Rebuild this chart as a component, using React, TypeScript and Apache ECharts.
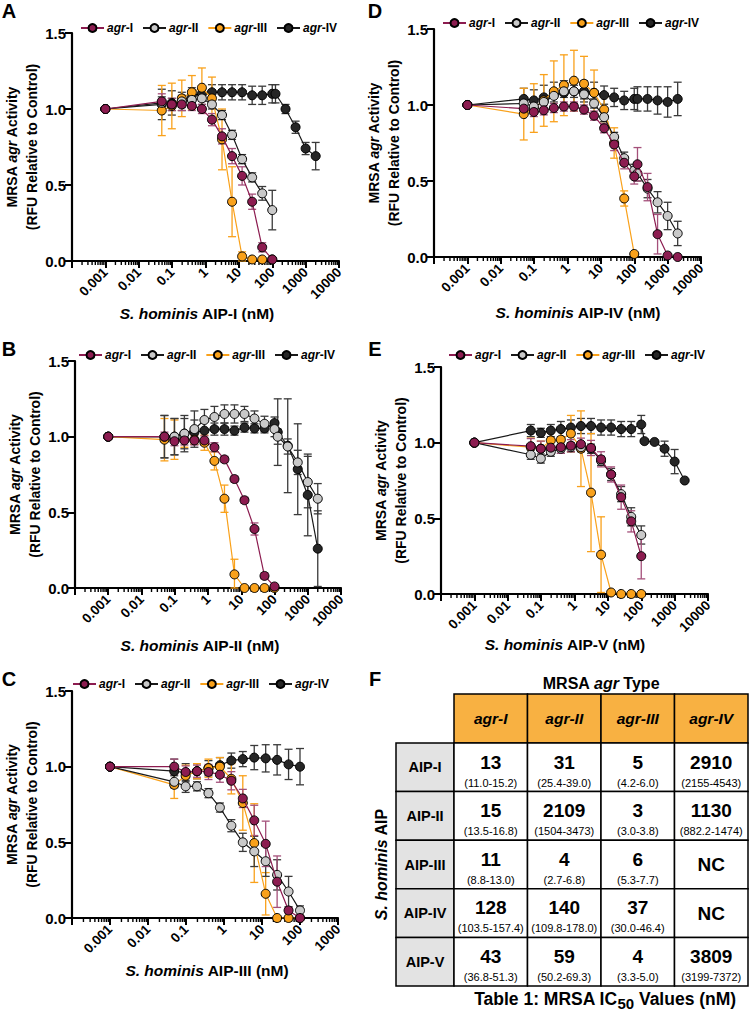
import React, { useEffect, useRef } from 'react';
import * as echarts from 'echarts';

const FONT = '"Liberation Sans", Arial, Helvetica, sans-serif';

// ---------- data ----------
const SERIES_NAMES = ['agr-I', 'agr-II', 'agr-III', 'agr-IV'];
const CONTROL_X = [0.001];
const CONC = [0.049, 0.098, 0.195, 0.39, 0.78, 1.56, 3.125, 6.25, 12.5, 25, 50, 100];
const CONC_HI = [125, 250, 500, 1000, 2000];
const X12 = [...CONTROL_X, ...CONC];
const X17 = [...CONTROL_X, ...CONC, ...CONC_HI];

// Panel A : S. hominis AIP-I
const A_I_Y = [1, 1.05, 1.03, 1.03, 1.02, 1.0, 0.93, 0.82, 0.69, 0.56, 0.39, 0.09, 0.01];
const A_I_E = [0, 0.05, 0.04, 0.04, 0.03, 0.03, 0.04, 0.05, 0.05, 0.06, 0.05, 0.03, 0.01];
const A_II_Y = [1, 1.04, 1.03, 1.05, 1.06, 1.07, 1.03, 0.96, 0.83, 0.67, 0.55, 0.445, 0.335];
const A_II_E = [0, 0.04, 0.04, 0.04, 0.04, 0.04, 0.03, 0.03, 0.03, 0.03, 0.03, 0.045, 0.13];
const A_III_Y = [1, 0.99, 1.02, 1.07, 1.11, 1.14, 1.07, 0.8, 0.39, 0.03, 0.01, 0.01, 0.01];
const A_III_E = [0, 0.165, 0.15, 0.12, 0.11, 0.13, 0.14, 0.2, 0.23, 0.03, 0, 0, 0];
const A_IV_Y = [1, 1.03, 1.04, 1.05, 1.09, 1.1, 1.11, 1.11, 1.11, 1.11, 1.09, 1.09, 1.1, 1.1, 1.0, 0.88, 0.74, 0.69];
const A_IV_E = [0, 0.1, 0.08, 0.06, 0.05, 0.05, 0.05, 0.05, 0.05, 0.05, 0.06, 0.06, 0.06, 0.06, 0.03, 0.04, 0.04, 0.09];

// Panel B : S. hominis AIP-II
const B_I_Y = [1, 1.0, 0.97, 0.975, 0.975, 0.975, 0.93, 0.85, 0.72, 0.58, 0.39, 0.08, 0.01];
const B_I_E = [0, 0.03, 0.03, 0.03, 0.03, 0.03, 0.03, 0.02, 0.02, 0.02, 0.04, 0.02, 0.01];
const B_II_Y = [1, 1.0, 1.0, 1.02, 1.05, 1.11, 1.13, 1.15, 1.15, 1.15, 1.12, 1.085, 1.05, 1.0, 0.935, 0.83, 0.7, 0.59];
const B_II_E = [0, 0.14, 0.12, 0.12, 0.12, 0.07, 0.07, 0.06, 0.06, 0.05, 0.05, 0.05, 0.05, 0.05, 0.05, 0.08, 0.17, 0.1];
const B_III_Y = [1, 0.98, 0.98, 0.98, 0.98, 0.96, 0.84, 0.59, 0.09, 0.0, 0.0, 0.0, 0.0];
const B_III_E = [0, 0.14, 0.13, 0.05, 0.03, 0.05, 0.06, 0.09, 0.1, 0, 0, 0, 0];
const B_IV_Y = [1, 1.0, 1.0, 1.02, 1.03, 1.04, 1.05, 1.05, 1.04, 1.06, 1.055, 1.055, 1.09, 1.03, 0.94, 0.785, 0.615, 0.26];
const B_IV_E = [0, 0.14, 0.12, 0.1, 0.08, 0.06, 0.04, 0.04, 0.03, 0.03, 0.03, 0.03, 0.04, 0.22, 0.31, 0.3, 0.27, 0.25];

// Panel C : S. hominis AIP-III
const C_I_Y = [1, 1.0, 0.965, 0.97, 0.965, 0.947, 0.907, 0.79, 0.645, 0.49, 0.24, 0.05, 0.0];
const C_I_E = [0, 0.05, 0.04, 0.04, 0.05, 0.05, 0.06, 0.06, 0.1, 0.15, 0.17, 0.02, 0];
const C_II_Y = [1, 0.9, 0.87, 0.87, 0.825, 0.73, 0.61, 0.5, 0.44, 0.375, 0.285, 0.175, 0.05];
const C_II_E = [0, 0.04, 0.04, 0.03, 0.03, 0.03, 0.04, 0.06, 0.1, 0.1, 0.1, 0.1, 0.03];
const C_III_Y = [1, 0.88, 0.94, 0.97, 0.99, 1.0, 0.92, 0.76, 0.495, 0.16, 0.0, 0.0, 0.0];
const C_III_E = [0, 0.09, 0.07, 0.05, 0.06, 0.06, 0.1, 0.18, 0.26, 0.14, 0, 0, 0];
const C_IV_Y = [1, 0.97, 0.96, 0.97, 0.99, 1.01, 1.04, 1.05, 1.06, 1.055, 1.045, 1.015, 1.0];
const C_IV_E = [0, 0.08, 0.06, 0.05, 0.05, 0.05, 0.05, 0.05, 0.08, 0.09, 0.1, 0.1, 0.12];

// Panel D : S. hominis AIP-IV
const D_I_Y = [1, 0.976, 0.954, 0.965, 0.98, 0.99, 0.99, 0.97, 0.93, 0.847, 0.74, 0.62, 0.53, 0.61, 0.46, 0.15, 0.01, 0.0];
const D_I_E = [0, 0.03, 0.03, 0.03, 0.03, 0.03, 0.03, 0.03, 0.03, 0.03, 0.04, 0.04, 0.05, 0.11, 0.09, 0.13, 0.01, 0];
const D_II_Y = [1, 1.01, 0.99, 1.02, 1.06, 1.09, 1.09, 1.07, 1.01, 0.92, 0.79, 0.65, 0.57, 0.55, 0.45, 0.36, 0.27, 0.155];
const D_II_E = [0, 0.04, 0.04, 0.04, 0.04, 0.04, 0.04, 0.03, 0.03, 0.03, 0.03, 0.04, 0.04, 0.05, 0.06, 0.07, 0.09, 0.08];
const D_III_Y = [1, 0.94, 0.98, 1.03, 1.09, 1.13, 1.16, 1.14, 1.08, 0.97, 0.75, 0.385, 0.02];
const D_III_E = [0, 0.17, 0.16, 0.17, 0.2, 0.2, 0.2, 0.18, 0.15, 0.08, 0.1, 0.05, 0];
const D_IV_Y = [1, 1.04, 1.03, 1.05, 1.07, 1.08, 1.09, 1.09, 1.08, 1.065, 1.05, 1.03, 1.04, 1.04, 1.04, 1.03, 1.02, 1.04];
const D_IV_E = [0, 0.07, 0.07, 0.08, 0.08, 0.08, 0.08, 0.07, 0.07, 0.06, 0.06, 0.06, 0.07, 0.08, 0.08, 0.09, 0.1, 0.11];

// Panel E : S. hominis AIP-V
const E_I_Y = [1, 0.977, 0.96, 0.967, 0.97, 0.98, 0.99, 0.965, 0.89, 0.79, 0.64, 0.48, 0.25];
const E_I_E = [0, 0.05, 0.05, 0.04, 0.04, 0.04, 0.04, 0.05, 0.05, 0.05, 0.08, 0.07, 0.15];
const E_II_Y = [1, 0.92, 0.895, 0.94, 0.96, 0.97, 0.97, 0.96, 0.88, 0.79, 0.66, 0.51, 0.39];
const E_II_E = [0, 0.03, 0.03, 0.03, 0.03, 0.03, 0.03, 0.03, 0.03, 0.04, 0.05, 0.06, 0.06];
const E_III_Y = [1, 0.97, 0.96, 1.015, 1.02, 1.06, 0.96, 0.67, 0.26, 0.01, 0.0, 0.0, 0.0];
const E_III_E = [0, 0.06, 0.05, 0.05, 0.07, 0.12, 0.25, 0.39, 0.25, 0, 0, 0, 0];
const E_IV_Y = [1, 1.08, 1.065, 1.08, 1.09, 1.1, 1.11, 1.11, 1.1, 1.1, 1.09, 1.09, 1.12, 1.01, 1.005, 0.96, 0.875, 0.75];
const E_IV_E = [0, 0.04, 0.03, 0.04, 0.05, 0.05, 0.05, 0.05, 0.05, 0.05, 0.05, 0.05, 0.06, 0, 0, 0.05, 0.08, 0];

// Table F
const TABLE_COLS = ['agr-I', 'agr-II', 'agr-III', 'agr-IV'];
const TABLE_ROWS = ['AIP-I', 'AIP-II', 'AIP-III', 'AIP-IV', 'AIP-V'];
const IC50 = [
  ['13', '31', '5', '2910'],
  ['15', '2109', '3', '1130'],
  ['11', '4', '6', 'NC'],
  ['128', '140', '37', 'NC'],
  ['43', '59', '4', '3809'],
];
const IC50_CI = [
  ['(11.0-15.2)', '(25.4-39.0)', '(4.2-6.0)', '(2155-4543)'],
  ['(13.5-16.8)', '(1504-3473)', '(3.0-3.8)', '(882.2-1474)'],
  ['(8.8-13.0)', '(2.7-6.8)', '(5.3-7.7)', ''],
  ['(103.5-157.4)', '(109.8-178.0)', '(30.0-46.4)', ''],
  ['(36.8-51.3)', '(50.2-69.3)', '(3.3-5.0)', '(3199-7372)'],
];

// ---------- styling ----------
const FILL = ['#8C1C50', '#C9C9C9', '#F9A11B', '#262626'];
const LINE = ['#8C1C50', '#1a1a1a', '#F9A11B', '#1a1a1a'];
const ERRC = ['#A4507A', '#3a3a3a', '#F9A11B', '#3a3a3a'];
const ZS = [8, 7, 6, 5];

type S = { x: number[]; y: number[]; e: number[] };
type Panel = {
  letter: string; letterPos: [number, number];
  grid: { left: number; top: number; width: number; height: number };
  xMax: number; legendPos: [number, number];
  xTitle: string; xTitlePos: [number, number]; yTitleX: [number, number];
  series: S[];
};

const PANELS: Panel[] = [
  {
    letter: 'A', letterPos: [9, 11], grid: { left: 72, top: 33, width: 267, height: 228 }, xMax: 1e4,
    legendPos: [80, 22], xTitle: 'AIP-I', xTitlePos: [197, 313], yTitleX: [12, 32],
    series: [{ x: X12, y: A_I_Y, e: A_I_E }, { x: X12, y: A_II_Y, e: A_II_E }, { x: X12, y: A_III_Y, e: A_III_E }, { x: X17, y: A_IV_Y, e: A_IV_E }],
  },
  {
    letter: 'D', letterPos: [375, 11], grid: { left: 434, top: 29, width: 267, height: 228 }, xMax: 1e4,
    legendPos: [442, 17], xTitle: 'AIP-IV', xTitlePos: [578, 312], yTitleX: [374, 394],
    series: [{ x: X17, y: D_I_Y, e: D_I_E }, { x: X17, y: D_II_Y, e: D_II_E }, { x: X12, y: D_III_Y, e: D_III_E }, { x: X17, y: D_IV_Y, e: D_IV_E }],
  },
  {
    letter: 'B', letterPos: [9, 349], grid: { left: 75, top: 361, width: 266, height: 227 }, xMax: 1e4,
    legendPos: [78, 349], xTitle: 'AIP-II', xTitlePos: [200, 645], yTitleX: [15, 35],
    series: [{ x: X12, y: B_I_Y, e: B_I_E }, { x: X17, y: B_II_Y, e: B_II_E }, { x: X12, y: B_III_Y, e: B_III_E }, { x: X17, y: B_IV_Y, e: B_IV_E }],
  },
  {
    letter: 'E', letterPos: [375, 349], grid: { left: 441, top: 367, width: 267, height: 227 }, xMax: 1e4,
    legendPos: [448, 349], xTitle: 'AIP-V', xTitlePos: [565, 644], yTitleX: [381, 401],
    series: [{ x: X12, y: E_I_Y, e: E_I_E }, { x: X12, y: E_II_Y, e: E_II_E }, { x: X12, y: E_III_Y, e: E_III_E }, { x: X17, y: E_IV_Y, e: E_IV_E }],
  },
  {
    letter: 'C', letterPos: [9, 679], grid: { left: 72, top: 691, width: 266, height: 227 }, xMax: 1e3,
    legendPos: [72, 678], xTitle: 'AIP-III', xTitlePos: [207, 970], yTitleX: [12, 32],
    series: [{ x: X12, y: C_I_Y, e: C_I_E }, { x: X12, y: C_II_Y, e: C_II_E }, { x: X12, y: C_III_Y, e: C_III_E }, { x: X12, y: C_IV_Y, e: C_IV_E }],
  },
];

function minorTicks(max: number): number[] {
  const out: number[] = [];
  for (let d = -4; d < Math.round(Math.log10(max)); d++) {
    for (let m = 2; m <= 9; m++) out.push(+(m * Math.pow(10, d)).toPrecision(3));
  }
  return out;
}

function txt(x: number, y: number, text: string, extra: any = {}, rot = 0): any {
  return {
    type: 'text', x, y, rotation: rot, silent: true, z: 20,
    style: {
      text, fill: '#000', fontFamily: FONT, fontWeight: 'bold', fontSize: 14,
      align: 'center', verticalAlign: 'middle', textAlign: 'center', textVerticalAlign: 'middle',
      ...extra,
    },
  };
}

function richIB(size: number) {
  return {
    i: { fontStyle: 'italic', fontWeight: 'bold', fontSize: size, fontFamily: FONT, fill: '#000' },
    b: { fontWeight: 'bold', fontSize: size, fontFamily: FONT, fill: '#000' },
  };
}

function buildOption(): any {
  const grid: any[] = [];
  const xAxis: any[] = [];
  const yAxis: any[] = [];
  const series: any[] = [];
  const legend: any[] = [];
  const graphic: any[] = [];

  PANELS.forEach((p, i) => {
    grid.push({ ...p.grid, containLabel: false });
    xAxis.push({
      type: 'log', logBase: 10, gridIndex: i, min: 1e-4, max: p.xMax, splitNumber: 10,
      axisLine: { show: true, onZero: false, lineStyle: { color: '#000', width: 2.2 } },
      axisTick: { show: true, length: 7, lineStyle: { color: '#000', width: 2 } },
      splitLine: { show: false },
      axisLabel: {
        rotate: 45, margin: 9, color: '#000', fontFamily: FONT, fontWeight: 'bold', fontSize: 13.5,
        showMinLabel: true, showMaxLabel: true,
        formatter: (v: number) => (v < 0.0009 ? '' : v >= 1 ? String(Math.round(v)) : String(+v.toPrecision(1))),
      },
    });
    yAxis.push({
      type: 'value', gridIndex: i, min: 0, max: 1.5, interval: 0.5,
      axisLine: { show: true, onZero: false, lineStyle: { color: '#000', width: 2.2 } },
      axisTick: { show: true, length: 7, lineStyle: { color: '#000', width: 2 } },
      splitLine: { show: false },
      axisLabel: { color: '#000', fontFamily: FONT, fontWeight: 'bold', fontSize: 15, margin: 6, formatter: (v: number) => v.toFixed(1) },
    });

    // minor ticks on log axis
    series.push({
      type: 'custom', name: 'minor' + i, xAxisIndex: i, yAxisIndex: i, silent: true, z: 1,
      data: minorTicks(p.xMax).map((t) => [t, 0]),
      encode: { x: 0, y: 1 },
      renderItem: (_pa: any, api: any) => {
        const c = api.coord([api.value(0), 0]);
        return { type: 'line', shape: { x1: c[0], y1: c[1], x2: c[0], y2: c[1] + 4 }, style: { stroke: '#000', lineWidth: 1.4 } };
      },
    });

    // draw agr-IV first so agr-I ends up on top
    [3, 2, 1, 0].forEach((k) => {
      const s = p.series[k];
      const errData = s.x
        .map((xv, j) => [xv, Math.max(0, s.y[j] - s.e[j]), s.y[j] + s.e[j], s.e[j]])
        .filter((d) => d[3] > 0.004);
      series.push({
        type: 'custom', name: 'err' + p.letter + k, xAxisIndex: i, yAxisIndex: i, silent: true, z: 2,
        data: errData, encode: { x: 0, y: [1, 2] },
        renderItem: (_pa: any, api: any) => {
          const xv = api.value(0);
          const a = api.coord([xv, api.value(2)]);
          const b = api.coord([xv, api.value(1)]);
          const w = 4;
          const st = { stroke: ERRC[k], lineWidth: 1.3 };
          return {
            type: 'group', children: [
              { type: 'line', shape: { x1: a[0], y1: a[1], x2: b[0], y2: b[1] }, style: st },
              { type: 'line', shape: { x1: a[0] - w, y1: a[1], x2: a[0] + w, y2: a[1] }, style: st },
              { type: 'line', shape: { x1: b[0] - w, y1: b[1], x2: b[0] + w, y2: b[1] }, style: st },
            ],
          };
        },
      });
      series.push({
        type: 'line', name: SERIES_NAMES[k], xAxisIndex: i, yAxisIndex: i, z: ZS[k],
        data: s.x.map((xv, j) => [xv, s.y[j]]),
        symbol: 'circle', symbolSize: 9, showSymbol: true,
        itemStyle: { color: FILL[k], borderColor: '#000', borderWidth: 1 },
        lineStyle: { color: LINE[k], width: 1.2 },
        emphasis: { disabled: true },
      });
    });

    legend.push({
      data: SERIES_NAMES, left: p.legendPos[0], top: p.legendPos[1], orient: 'horizontal',
      itemWidth: 23, itemHeight: 10, itemGap: 9, selectedMode: false, padding: 0,
      textStyle: {
        color: '#000', fontFamily: FONT, fontWeight: 'bold', fontSize: 12, padding: [0, 0, 0, -2],
        rich: {
          i: { fontStyle: 'italic', fontWeight: 'bold', fontSize: 12, fontFamily: FONT, color: '#000' },
          n: { fontWeight: 'bold', fontSize: 12, fontFamily: FONT, color: '#000' },
        },
      },
      formatter: (name: string) => `{i|agr}{n|${name.slice(3)}}`,
    });

    graphic.push(txt(p.letterPos[0], p.letterPos[1], p.letter, { fontSize: 20 }));
    graphic.push(txt(p.xTitlePos[0], p.xTitlePos[1], `{i|S. hominis} {b|${p.xTitle} (nM)}`, { rich: richIB(15.5) }));
    const cy = p.grid.top + p.grid.height / 2;
    graphic.push(txt(p.yTitleX[0], cy, '{b|MRSA }{i|agr}{b| Activity}', { rich: richIB(14) }, Math.PI / 2));
    graphic.push(txt(p.yTitleX[1], cy, '(RFU Relative to Control)', { fontSize: 14 }, Math.PI / 2));
  });

  // ---------- Table F ----------
  const LX = 396, CX0 = 454, CW = 73.5, HT = 694, HH = 49, RT = 743, RH = 48.6;
  graphic.push(txt(375, 679, 'F', { fontSize: 20 }));
  graphic.push(txt(CX0 + 2 * CW, 683, '{b|MRSA }{i|agr}{b| Type}', { rich: richIB(16) }));
  const cellStroke = { stroke: '#000', lineWidth: 1.5 };
  TABLE_COLS.forEach((c, ci) => {
    graphic.push({ type: 'rect', z: 10, silent: true, shape: { x: CX0 + ci * CW, y: HT, width: CW, height: HH }, style: { fill: '#F8B142', ...cellStroke } });
    graphic.push(txt(CX0 + ci * CW + CW / 2, HT + HH / 2, c, { fontStyle: 'italic', fontSize: 15.5 }));
  });
  TABLE_ROWS.forEach((r, ri) => {
    const y0 = RT + ri * RH;
    graphic.push({ type: 'rect', z: 10, silent: true, shape: { x: LX, y: y0, width: CX0 - LX, height: RH }, style: { fill: '#E3E3E3', ...cellStroke } });
    graphic.push(txt((LX + CX0) / 2, y0 + RH / 2, r, { fontSize: 14.5 }));
    TABLE_COLS.forEach((_c, ci) => {
      const x0 = CX0 + ci * CW;
      graphic.push({ type: 'rect', z: 10, silent: true, shape: { x: x0, y: y0, width: CW, height: RH }, style: { fill: '#fff', ...cellStroke } });
      const ci50 = IC50_CI[ri][ci];
      if (ci50) {
        graphic.push(txt(x0 + CW / 2, y0 + 19, IC50[ri][ci], { fontSize: 19 }));
        graphic.push(txt(x0 + CW / 2, y0 + 39.5, ci50, { fontSize: 11, fontWeight: 'normal' }));
      } else {
        graphic.push(txt(x0 + CW / 2, y0 + RH / 2, IC50[ri][ci], { fontSize: 19 }));
      }
    });
  });
  graphic.push(txt(381, RT + (5 * RH) / 2, '{i|S. hominis} {b|AIP}', { rich: richIB(16) }, Math.PI / 2));
  graphic.push(txt(605, 1000, '{t|Table 1: MRSA IC}{s|50}{t| Values (nM)}', {
    rich: {
      t: { fontWeight: 'bold', fontSize: 17.5, fontFamily: FONT, fill: '#000', lineHeight: 20, verticalAlign: 'top' },
      s: { fontWeight: 'bold', fontSize: 15, fontFamily: FONT, fill: '#000', lineHeight: 16, padding: [6, 0, 0, 0], verticalAlign: 'top' },
    },
  }));

  return {
    animation: false,
    backgroundColor: '#ffffff',
    textStyle: { fontFamily: FONT },
    grid, xAxis, yAxis, series, legend, graphic,
  };
}

export default function App() {
  const ref = useRef<HTMLDivElement>(null);
  useEffect(() => {
    document.body.style.margin = '0';
    if (!ref.current) return;
    const chart = echarts.init(ref.current, undefined, { renderer: 'svg' });
    chart.setOption(buildOption());
    return () => chart.dispose();
  }, []);
  return <div ref={ref} style={{ position: 'absolute', left: 0, top: 0, width: 750, height: 1011 }} />;
}
